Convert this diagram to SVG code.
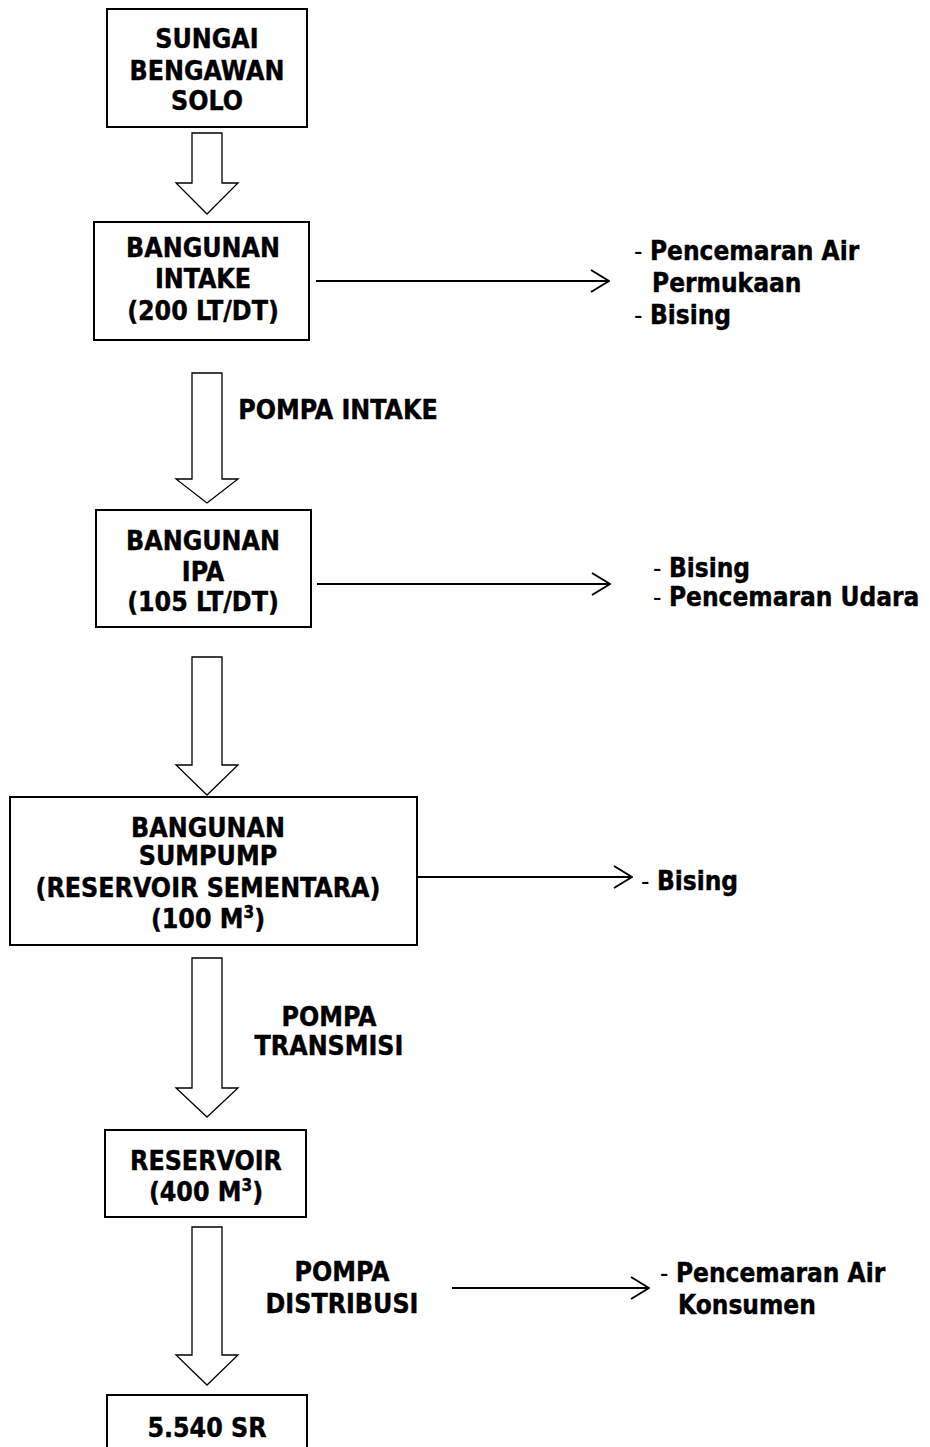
<svg xmlns="http://www.w3.org/2000/svg" width="930" height="1447" viewBox="0 0 930 1447">
<defs>
<style>
.box{fill:#fff;stroke:#000;stroke-width:2}
.blk{fill:#fff;stroke:#000;stroke-width:1.3}
.t{font-family:"DejaVu Sans Condensed","DejaVu Sans",sans-serif;font-stretch:condensed;font-weight:bold;font-size:26.5px;fill:#000;text-anchor:middle;stroke:#000;stroke-width:0.4}
.r{font-family:"DejaVu Sans Condensed","DejaVu Sans",sans-serif;font-stretch:condensed;font-weight:bold;font-size:26px;fill:#000;stroke:#000;stroke-width:0.4}
.d{font-weight:normal;stroke-width:0}
.ln{fill:none;stroke:#000;stroke-width:2}
</style>
<marker id="chev" viewBox="0 0 20 24" refX="19" refY="12" markerWidth="20" markerHeight="24" markerUnits="userSpaceOnUse" orient="auto">
<path d="M1,1 L19,12 L1,23" fill="none" stroke="#000" stroke-width="2"/>
</marker>
</defs>
<rect width="930" height="1447" fill="#fff"/>

<g id="connectors">
<path class="blk" d="M192,133 H222 V183 H238 L207,214 L176,183 H192 Z"/>
<path class="blk" d="M192,373 H222 V479 H238 L207,503 L176,479 H192 Z"/>
<path class="blk" d="M192,657 H222 V765 H238 L207,795 L176,765 H192 Z"/>
<path class="blk" d="M192,958 H222 V1088 H238 L207,1117 L176,1088 H192 Z"/>
<path class="blk" d="M192,1227 H222 V1355 H238 L207,1385 L176,1355 H192 Z"/>
<line class="ln" x1="316" y1="281" x2="609" y2="281" marker-end="url(#chev)"/>
<line class="ln" x1="317" y1="584" x2="610" y2="584" marker-end="url(#chev)"/>
<line class="ln" x1="417" y1="877" x2="632" y2="877" marker-end="url(#chev)"/>
<line class="ln" x1="452" y1="1288" x2="649" y2="1288" marker-end="url(#chev)"/>
<text class="t" x="338" y="419">POMPA INTAKE</text>
<text class="t" x="329" y="1026">POMPA</text>
<text class="t" x="329" y="1055">TRANSMISI</text>
<text class="t" x="342" y="1281">POMPA</text>
<text class="t" x="342" y="1313">DISTRIBUSI</text>
</g>

<g id="n1">
<rect class="box" x="107" y="9" width="200" height="118"/>
<text class="t" x="207" y="48">SUNGAI</text>
<text class="t" x="207" y="80">BENGAWAN</text>
<text class="t" x="207" y="110">SOLO</text>
</g>
<g id="n2">
<rect class="box" x="94" y="222" width="215" height="118"/>
<text class="t" x="203" y="257">BANGUNAN</text>
<text class="t" x="203" y="288">INTAKE</text>
<text class="t" x="203" y="320">(200 LT/DT)</text>
</g>
<g id="n3">
<rect class="box" x="96" y="510" width="215" height="117"/>
<text class="t" x="203" y="550">BANGUNAN</text>
<text class="t" x="203" y="581">IPA</text>
<text class="t" x="203" y="611">(105 LT/DT)</text>
</g>
<g id="n4">
<rect class="box" x="10" y="797" width="407" height="148"/>
<text class="t" x="208" y="837">BANGUNAN</text>
<text class="t" x="208" y="865">SUMPUMP</text>
<text class="t" x="208" y="897">(RESERVOIR SEMENTARA)</text>
<text class="t" x="208" y="928">(100 M<tspan font-size="17" dy="-10">3</tspan><tspan dy="10">)</tspan></text>
</g>
<g id="n5">
<rect class="box" x="105" y="1130" width="201" height="87"/>
<text class="t" x="206" y="1170">RESERVOIR</text>
<text class="t" x="206" y="1201">(400 M<tspan font-size="17" dy="-10">3</tspan><tspan dy="10">)</tspan></text>
</g>
<g id="n6">
<rect class="box" x="107" y="1395" width="200" height="60"/>
<text class="t" x="207" y="1437">5.540 SR</text>
</g>

<g id="e1">
<text class="r" x="634" y="260"><tspan class="d">- </tspan>Pencemaran Air</text>
<text class="r" x="652" y="292">Permukaan</text>
<text class="r" x="634" y="324"><tspan class="d">- </tspan>Bising</text>
</g>
<g id="e2">
<text class="r" x="653" y="577"><tspan class="d">- </tspan>Bising</text>
<text class="r" x="653" y="606"><tspan class="d">- </tspan>Pencemaran Udara</text>
</g>
<g id="e3">
<text class="r" x="641" y="890"><tspan class="d">- </tspan>Bising</text>
</g>
<g id="e4">
<text class="r" x="660" y="1282"><tspan class="d">- </tspan>Pencemaran Air</text>
<text class="r" x="678" y="1314">Konsumen</text>
</g>
</svg>
